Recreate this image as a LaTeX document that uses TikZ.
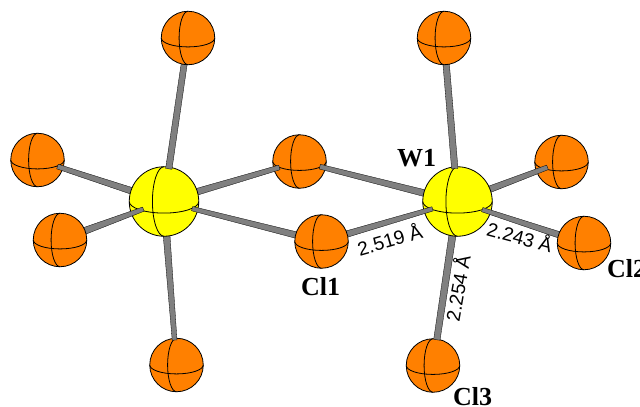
\documentclass[tikz,border=0pt]{standalone}
\usepackage{fontspec}
\setmainfont{Liberation Serif}
\newfontfamily\lensfont{Liberation Sans}
\usetikzlibrary{calc}
\definecolor{clorange}{RGB}{255,128,0}
\definecolor{wyellow}{RGB}{255,255,0}
\definecolor{bondgray}{RGB}{128,128,128}
\tikzset{
  ballcl/.style={circle,draw=black,line width=.8pt,fill=clorange,minimum size=53.5pt,inner sep=0pt,outer sep=0pt},
  ballw/.style={circle,draw=black,line width=.8pt,fill=wyellow,minimum size=69.5pt,inner sep=0pt,outer sep=0pt},
  bondline/.style={fill=bondgray,draw=black,line width=.3pt,line join=round},
  atomlabel/.style={font=\bfseries\fontsize{26}{26}\selectfont,anchor=base west,inner sep=0pt},
  lenlabel/.style={font=\lensfont\fontsize{19.3}{20}\selectfont,inner sep=0pt,text=black}
}
% equator and meridian of a ball
\newcommand{\ballmarks}[2]{%
  \draw[line width=.8pt] (#1.west) arc[start angle=180,end angle=360,x radius=#2pt,y radius=#2pt/3];
  \draw[line width=.8pt] (#1.north) arc[start angle=90,end angle=270,x radius=#2pt/3,y radius=#2pt];
}
\newcommand{\clball}[2]{\node[ballcl] (#1) at (#2) {};\ballmarks{#1}{26.75}}
\newcommand{\wball}[2]{\node[ballw] (#1) at (#2) {};\ballmarks{#1}{34.75}}
% tapered bond between named atoms: from, to, inset at from, inset at to, half-widths
\newcommand{\bond}[6]{%
  \coordinate (pa) at ($(#1)!#3pt!(#2)$);
  \coordinate (pb) at ($(#2)!#4pt!(#1)$);
  \draw[bondline] ($(pa)!#5pt!90:(pb)$) -- ($(pb)!#6pt!-90:(pa)$) -- ($(pb)!#6pt!90:(pa)$) -- ($(pa)!#5pt!-90:(pb)$) -- cycle;
}
\begin{document}
\begin{tikzpicture}[x=1pt,y=-1pt]
\useasboundingbox (0,0) rectangle (640,407);
\clip (0,0) rectangle (640,407);
\coordinate (Y) at (164,201.5);
\coordinate (W) at (457.5,201.5);
\coordinate (T1c) at (188,38);
\coordinate (L2c) at (60,240);
\coordinate (MBc) at (321.5,241.5);
\coordinate (T2c) at (444,38);
\coordinate (Cl2c) at (584,243);
% balls at the back
\clball{L1}{37.5,160}
\clball{MT}{299.5,161.5}
\clball{B1}{176.5,365}
\clball{Cl3}{433,365.5}
\clball{R1}{561.5,162}
% bonds over the back balls, under the metal atoms
\bond{L1}{Y}{21}{10}{2.4}{3.6}
\bond{MT}{Y}{21}{10}{2.4}{3.6}
\bond{B1}{Y}{25}{10}{2.4}{3.6}
\bond{MT}{W}{21}{10}{2.4}{3.6}
\bond{Cl3}{W}{26}{10}{3.2}{3.6}
\bond{R1}{W}{15}{10}{2.4}{3.6}
% metal atoms
\wball{Y1}{164,201.5}
\wball{W1}{457.5,201.5}
% bonds over the metal atoms, under the front balls
\bond{Y}{L2c}{22}{10}{2.2}{3.8}
\bond{Y}{T1c}{33}{10}{3.2}{3}
\bond{Y}{MBc}{29}{10}{2.2}{3.4}
\bond{W}{MBc}{26}{10}{2.2}{3.4}
\bond{W}{T2c}{33}{10}{3.2}{3.2}
\bond{W}{Cl2c}{26}{10}{2.2}{3.4}
% front balls
\clball{L2}{60,240}
\clball{T1}{188,38}
\clball{MB}{321.5,241.5}
\clball{T2}{444,38}
\clball{Cl2}{584,243}
% labels
\node[atomlabel] (lW1) at (397,166) {W1};
\node[atomlabel] (lCl1) at (301,295.5) {Cl1};
\node[atomlabel] (lCl2) at (607,277) {Cl2};
\node[atomlabel] (lCl3) at (453,405.5) {Cl3};
\node[lenlabel,rotate=16] (d1) at (389.5,239) {2.519 Å};
\node[lenlabel,rotate=-15] (d2) at (520,236) {2.243 Å};
\node[lenlabel,rotate=80] (d3) at (457,288) {2.254 Å};
\end{tikzpicture}
\end{document}
